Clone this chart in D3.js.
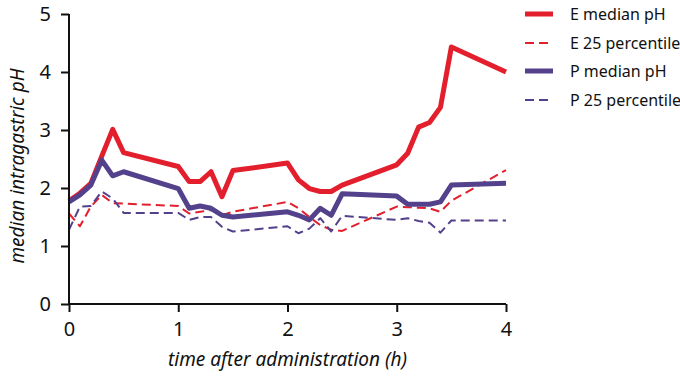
<!DOCTYPE html>
<html>
<head>
<meta charset="utf-8">
<script src="https://cdn.jsdelivr.net/npm/d3@7"></script>
<style>
  body { margin: 0; background: #fff; }
  svg text { font-family: "Noto Sans", "Open Sans", sans-serif; fill: #111; }
</style>
</head>
<body>
<div id="chart"></div>
<script>
// time points (h)
var times = [0, 0.1, 0.2, 0.3, 0.4, 0.5, 1, 1.1, 1.2, 1.3, 1.4, 1.5, 2, 2.1, 2.2, 2.3, 2.4, 2.5, 3, 3.1, 3.2, 3.3, 3.4, 3.5, 4]

var eMedian = [1.78, 1.91, 2.08, 2.55, 3.01, 2.61, 2.37, 2.11, 2.11, 2.28, 1.85, 2.30, 2.43, 2.14, 1.99, 1.94, 1.94, 2.05, 2.40, 2.60, 3.05, 3.13, 3.39, 4.43, 4.0]
var e25 = [1.56, 1.34, 1.68, 1.88, 1.74, 1.73, 1.69, 1.56, 1.59, 1.62, 1.53, 1.59, 1.76, 1.65, 1.50, 1.36, 1.28, 1.26, 1.68, 1.67, 1.66, 1.65, 1.59, 1.78, 2.31]
var pMedian = [1.76, 1.88, 2.05, 2.48, 2.21, 2.28, 1.99, 1.65, 1.69, 1.65, 1.53, 1.50, 1.59, 1.53, 1.45, 1.65, 1.53, 1.90, 1.86, 1.72, 1.72, 1.72, 1.76, 2.05, 2.08]
var p25 = [1.28, 1.68, 1.69, 1.94, 1.82, 1.57, 1.57, 1.45, 1.50, 1.50, 1.33, 1.25, 1.34, 1.22, 1.30, 1.48, 1.25, 1.52, 1.45, 1.48, 1.43, 1.40, 1.23, 1.44, 1.44]

var xTicks = [0, 1, 2, 3, 4]
var yTicks = [0, 1, 2, 3, 4, 5]

var series = [
  { name: "E median pH", values: eMedian, color: "#e31e2d", width: 5, dash: null },
  { name: "E 25 percentile", values: e25, color: "#e31e2d", width: 2, dash: "9,5" },
  { name: "P median pH", values: pMedian, color: "#54418c", width: 5, dash: null },
  { name: "P 25 percentile", values: p25, color: "#54418c", width: 2, dash: "9,5" }
]

var W = 680, H = 376
var margin = { top: 14, right: 174, bottom: 72, left: 69 }
var width = W - margin.left - margin.right,
  height = H - margin.top - margin.bottom

var svg = d3.select("#chart").append("svg")
  .attr("width", W)
  .attr("height", H)

var g = svg.append("g")
  .attr("transform", "translate(" + margin.left + "," + margin.top + ")")

var x = d3.scaleLinear().domain([0, 4]).range([0, width])
var y = d3.scaleLinear().domain([0, 5]).range([height, 0])

var line = d3.line()
  .x(function (d, i) { return x(times[i]) })
  .y(function (d) { return y(d) })

// draw dashed first, thick on top
var order = [1, 3, 0, 2]
order.forEach(function (k) {
  var s = series[k]
  g.append("path")
    .datum(s.values)
    .attr("fill", "none")
    .attr("stroke", s.color)
    .attr("stroke-width", s.width)
    .attr("stroke-dasharray", s.dash)
    .attr("stroke-linejoin", "round")
    .attr("d", line)
})

// axes
var xAxis = d3.axisBottom(x).tickValues(xTicks).tickSize(8).tickPadding(10).tickFormat(d3.format("d"))
var yAxis = d3.axisLeft(y).tickValues(yTicks).tickSize(8).tickPadding(10).tickFormat(d3.format("d"))

g.append("g")
  .attr("transform", "translate(0," + height + ")")
  .call(xAxis)
  .call(function (a) {
    a.selectAll("path, line").attr("stroke", "#111").attr("stroke-width", 2)
    a.select(".domain").attr("d", "M0,0H" + width)
    a.selectAll("text").style("font-size", "20px").attr("fill", "#111")
  })

g.append("g")
  .call(yAxis)
  .call(function (a) {
    a.selectAll("path, line").attr("stroke", "#111").attr("stroke-width", 2)
    a.select(".domain").attr("d", "M0," + height + "V0")
    a.selectAll("text").style("font-size", "20px").attr("fill", "#111")
  })

// axis titles
svg.append("text")
  .attr("x", margin.left + x(2))
  .attr("y", 366)
  .attr("text-anchor", "middle")
  .style("font-size", "19px")
  .style("font-style", "italic")
  .text("time after administration (h)")

svg.append("text")
  .attr("transform", "translate(24,166) rotate(-90)")
  .attr("text-anchor", "middle")
  .style("font-size", "19px")
  .style("font-style", "italic")
  .text("median intragastric pH")

// legend
var legend = svg.append("g").attr("transform", "translate(525,14)")
var rowY = [0, 29, 57, 86]
series.forEach(function (s, i) {
  var row = legend.append("g").attr("transform", "translate(0," + rowY[i] + ")")
  row.append("line")
    .attr("x1", 0).attr("x2", 28)
    .attr("stroke", s.color)
    .attr("stroke-width", s.width)
    .attr("stroke-dasharray", s.dash)
  row.append("text")
    .attr("x", 45)
    .attr("dy", "0.35em")
    .style("font-size", "16px")
    .text(s.name)
})
</script>
</body>
</html>
